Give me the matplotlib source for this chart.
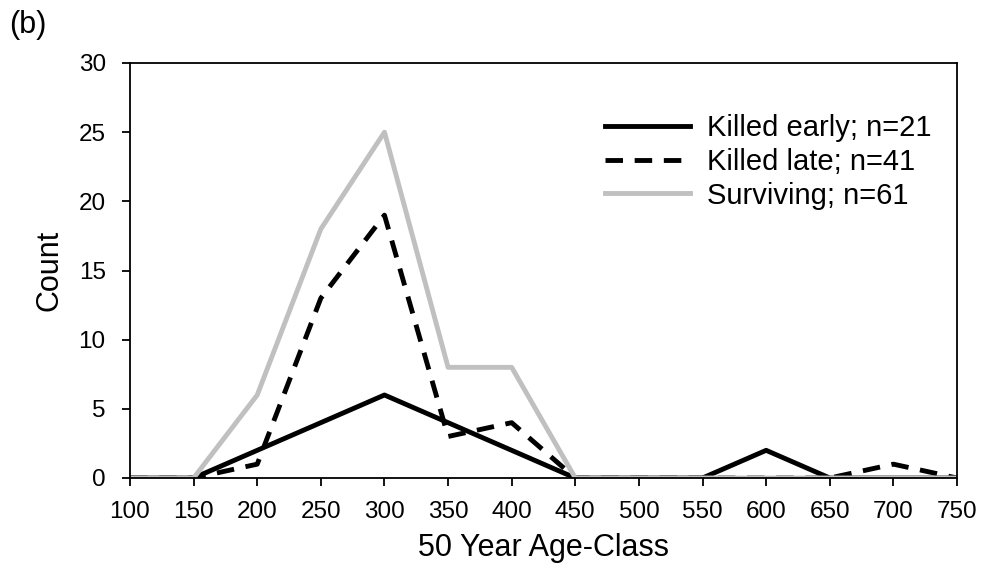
import matplotlib
matplotlib.use("Agg")
import matplotlib.pyplot as plt

plt.rcParams['font.family'] = ['Liberation Sans', 'DejaVu Sans']

age_class = [100, 150, 200, 250, 300, 350, 400, 450, 500, 550, 600, 650, 700, 750]
killed_early = [0, 0, 2, 4, 6, 4, 2, 0, 0, 0, 2, 0, 0, 0]
killed_late = [0, 0, 1, 13, 19, 3, 4, 0, 0, 0, 0, 0, 1, 0]
surviving = [0, 0, 6, 18, 25, 8, 8, 0, 0, 0, 0, 0, 0, 0]

labels = ["Killed early; n=21", "Killed late; n=41", "Surviving; n=61"]

fig = plt.figure(figsize=(9.87, 5.65), dpi=100)
ax = fig.add_axes([130 / 987, 87 / 565, 827 / 987, 415 / 565])

lw = 3.5
ax.plot(age_class, killed_early, color="black", lw=lw, label=labels[0])
ax.plot(age_class, killed_late, color="black", lw=lw, linestyle=(0, (3.6, 2.4)),
        label=labels[1])
ax.plot(age_class, surviving, color="#c0c0c0", lw=lw, label=labels[2])

ax.set_xlim(100, 750)
ax.set_ylim(0, 30)
ax.set_xticks(age_class)
ax.set_yticks(range(0, 31, 5))
ax.tick_params(direction="out", length=5.5, width=1.3, labelsize=17.5)
ax.tick_params(axis="x", pad=11)
ax.tick_params(axis="y", pad=12)
for s in ax.spines.values():
    s.set_linewidth(1.3)

ax.set_xlabel("50 Year Age-Class", fontsize=22, labelpad=7)
ax.set_ylabel("Count", fontsize=22, labelpad=10)

ax.legend(loc="upper left", frameon=False, fontsize=21,
          handlelength=2.9, handletextpad=0.6, labelspacing=0.2,
          borderpad=0, borderaxespad=0,
          bbox_to_anchor=((605 - 130) / 827, (478 - 114) / 415))

fig.text(9 / 987, 1 - 25 / 565, "(b)", fontsize=22, va="center", ha="left")

fig.savefig("out.png", dpi=100)
